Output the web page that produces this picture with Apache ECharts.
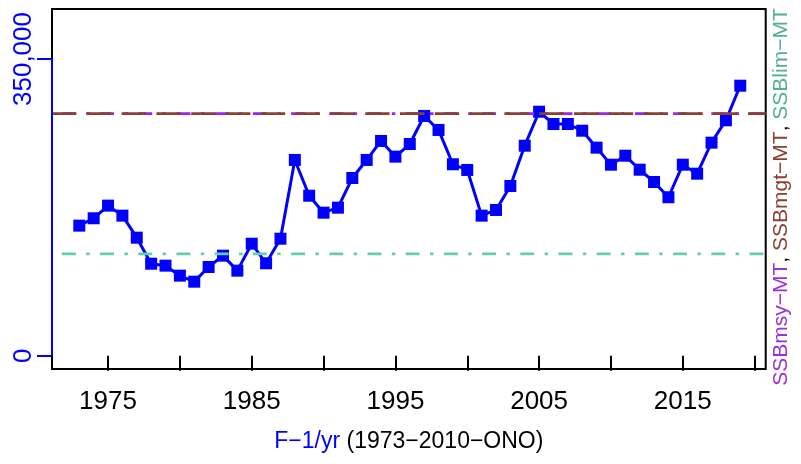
<!DOCTYPE html>
<html>
<head>
<meta charset="utf-8">
<script src="https://cdn.jsdelivr.net/npm/echarts@6/dist/echarts.min.js"></script>
<style>html,body{margin:0;padding:0;background:#fff;}#c{width:801px;height:464px;}</style>
</head>
<body>
<div id="c"></div>
<script>
const years = [1973,1974,1975,1976,1977,1978,1979,1980,1981,1982,
  1983,1984,1985,1986,1987,1988,1989,1990,1991,1992,
  1993,1994,1995,1996,1997,1998,1999,2000,2001,2002,
  2003,2004,2005,2006,2007,2008,2009,2010,2011,2012,
  2013,2014,2015,2016,2017,2018,2019];
const ssb = [153400,162100,177000,165200,139200,108500,106200,94400,87300,104600,
  118000,100300,132100,109000,138000,230900,188700,168700,174600,209600,
  230900,253300,234800,249700,282800,266300,225800,219100,165200,171900,
  200200,247700,287800,273300,273300,265400,245400,225300,235900,219400,
  204900,186900,225300,214700,251300,277700,318500];
const ssbMsy = 285500;
const ssbMgt = 285500;
const ssbLim = 120000;
const xTicks = [1975,1980,1985,1990,1995,2000,2005,2010,2015,2020];
const xLabels = [1975,1985,1995,2005,2015];
const yTicks = [0,350000];

const X_MIN = 1971.1, X_MAX = 2020.77;
const Y_MIN = -15726, Y_MAX = 408980;
const FONT = 'Liberation Sans, Arial, sans-serif';
const fmt = v => String(v).replace(/\B(?=(\d{3})+(?!\d))/g, ',');

const chart = echarts.init(document.getElementById('c'), null, {renderer:'canvas'});
chart.setOption({
  animation: false,
  backgroundColor: '#fff',
  grid: {left: 52, top: 9, right: 35.3, bottom: 95, show: true, borderColor: '#000', borderWidth: 2, backgroundColor: 'transparent'},
  xAxis: {
    type: 'value', min: X_MIN, max: X_MAX,
    axisLine: {show: false},
    splitLine: {show: false},
    axisTick: {show: true, customValues: xTicks, length: 15, lineStyle: {color: '#000', width: 2}},
    axisLabel: {customValues: xLabels, color: '#000', fontSize: 26, fontFamily: FONT, margin: 20, formatter: v => String(v)},
    name: '{b|F\u22121/yr}{k| (1973\u22122010\u2212ONO)}',
    nameLocation: 'middle', nameGap: 61,
    nameTextStyle: {
      fontFamily: FONT, fontSize: 23,
      rich: {b: {color: '#0000FF', fontSize: 23, fontFamily: FONT}, k: {color: '#000', fontSize: 23, fontFamily: FONT}}
    }
  },
  yAxis: {
    type: 'value', min: Y_MIN, max: Y_MAX,
    axisLine: {show: false},
    splitLine: {show: false},
    axisTick: {show: true, customValues: yTicks, length: 15, lineStyle: {color: '#0000FF', width: 2}},
    axisLabel: {customValues: yTicks, rotate: 90, color: '#0000FF', fontSize: 26, fontFamily: FONT, margin: 15, formatter: v => fmt(v)}
  },
  graphic: [{
    type: 'text', x: 781, y: 197, rotation: Math.PI / 2,
    style: {
      text: '{p|SSBmsy\u2212MT}{k|, }{m|SSBmgt\u2212MT}{k|, }{t|SSBlim\u2212MT}',
      align: 'center', verticalAlign: 'middle',
      fontSize: 21, fontFamily: FONT,
      rich: {
        p: {fill: '#9B30D8', fontSize: 21, fontFamily: FONT},
        m: {fill: '#8B4034', fontSize: 21, fontFamily: FONT},
        t: {fill: '#52B08D', fontSize: 21, fontFamily: FONT},
        k: {fill: '#000', fontSize: 21, fontFamily: FONT}
      }
    }
  }],
  series: [
    {
      type: 'line', data: [[X_MIN, yTicks[0]], [X_MIN, yTicks[1]]],
      symbol: 'none', clip: false, silent: true, z: 5,
      lineStyle: {color: '#0000FF', width: 2}
    },
    {
      type: 'line', data: years.map((y, i) => [y, ssb[i]]),
      symbol: 'rect', symbolSize: 12, z: 2,
      itemStyle: {color: '#0000FF'},
      lineStyle: {color: '#0000FF', width: 3}
    },
    {
      type: 'line', data: [[X_MIN, ssbMsy], [X_MAX, ssbMsy]],
      symbol: 'none', silent: true, z: 3,
      lineStyle: {color: '#A020F0', width: 2.8, type: [3.5, 10.4, 13.9, 10.4], dashOffset: 4, cap: 'butt'}
    },
    {
      type: 'line', data: [[X_MIN, ssbMgt], [X_MAX, ssbMgt]],
      symbol: 'none', silent: true, z: 4,
      lineStyle: {color: '#8B4034', width: 2.8, type: [24.4, 10.4], cap: 'butt'}
    },
    {
      type: 'line', data: [[X_MIN, ssbLim], [X_MAX, ssbLim]],
      symbol: 'none', silent: true, z: 3,
      lineStyle: {color: '#66CDAA', width: 2.8, type: [3.5, 10.4, 13.9, 10.4], dashOffset: 4, cap: 'butt'}
    }
  ]
});
</script>
</body>
</html>
